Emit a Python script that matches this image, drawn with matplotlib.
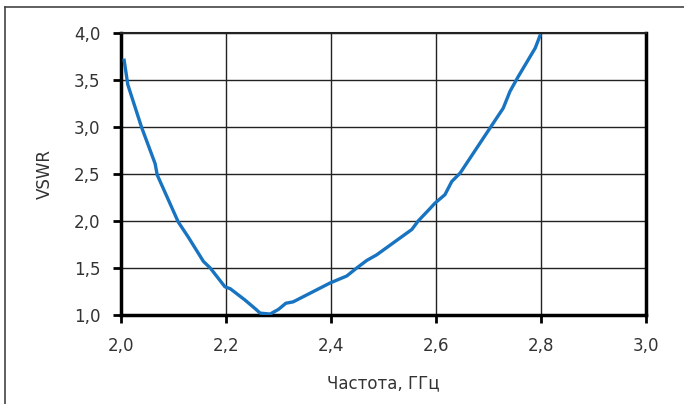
import matplotlib
matplotlib.use("Agg")
import matplotlib.pyplot as plt
from matplotlib.lines import Line2D

freq = [2.006, 2.013, 2.039, 2.065, 2.069, 2.109, 2.128, 2.157, 2.170, 2.198,
        2.208, 2.236, 2.255, 2.265, 2.284, 2.300, 2.314, 2.328, 2.398, 2.430,
        2.449, 2.468, 2.487, 2.554, 2.566, 2.589, 2.598, 2.617, 2.630, 2.646,
        2.703, 2.728, 2.741, 2.757, 2.789, 2.798]
vswr = [3.71, 3.45, 3.00, 2.61, 2.49, 1.99, 1.83, 1.57, 1.50, 1.30,
        1.28, 1.16, 1.07, 1.02, 1.01, 1.06, 1.125, 1.14, 1.34, 1.415,
        1.50, 1.58, 1.64, 1.91, 2.00, 2.135, 2.19, 2.28, 2.42, 2.51,
        2.99, 3.20, 3.38, 3.54, 3.84, 3.97]

xticks = [2.0, 2.2, 2.4, 2.6, 2.8, 3.0]
yticks = [1.0, 1.5, 2.0, 2.5, 3.0, 3.5, 4.0]
xlabel = "Частота, ГГц"
ylabel = "VSWR"

plt.rcParams['font.family'] = ['DejaVu Sans']

fig = plt.figure(figsize=(6.84, 4.04), dpi=100)
W, H = 684, 404
ax = fig.add_axes([121 / W, (H - 315) / H, 525 / W, 282 / H])

ax.plot(freq, vswr, color="#1874c0", lw=2.4, solid_joinstyle="round", zorder=3)

ax.set_xlim(2.0, 3.0)
ax.set_ylim(1.0, 4.0)
ax.set_xticks(xticks)
ax.set_yticks(yticks)
ax.set_xticklabels([f"{v:.1f}".replace(".", ",") for v in xticks])
ax.set_yticklabels([f"{v:.1f}".replace(".", ",") for v in yticks])
ax.grid(True, color="#222222", lw=1.0)
ax.set_axisbelow(True)

ax.tick_params(axis="both", direction="out", length=6, width=2, color="black",
               labelsize=12, labelcolor="#333333")
ax.tick_params(axis="x", pad=10)
ax.tick_params(axis="y", pad=9)

for side in ["left", "bottom", "right"]:
    ax.spines[side].set_linewidth(2.5)
    ax.spines[side].set_color("black")
ax.spines["top"].set_linewidth(1.5)
ax.spines["top"].set_color("#222222")

ax.set_xlabel(xlabel, fontsize=12, color="#333333", labelpad=14)
ax.set_ylabel(ylabel, fontsize=12, color="#333333", labelpad=14)

# outer frame (top and left edges)
fig.add_artist(Line2D([5 / W, 1.0], [1 - 7 / H, 1 - 7 / H], transform=fig.transFigure,
                      color="#444444", lw=1.2))
fig.add_artist(Line2D([5 / W, 5 / W], [0.0, 1 - 7 / H], transform=fig.transFigure,
                      color="#444444", lw=1.2))

fig.savefig("out.png", dpi=100)
